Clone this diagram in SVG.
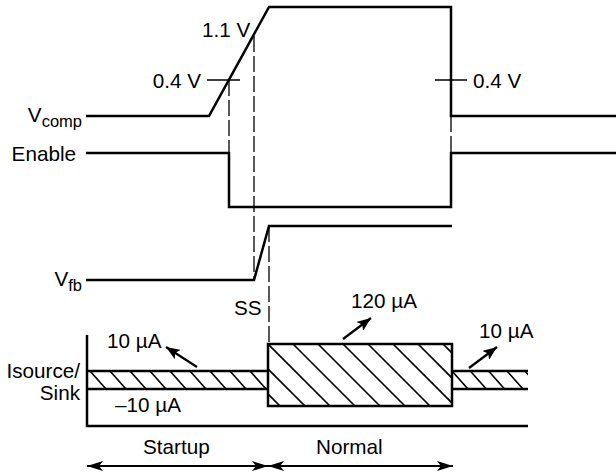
<svg xmlns="http://www.w3.org/2000/svg" width="616" height="472" viewBox="0 0 616 472">
<style>
text{font-family:"Liberation Sans",Arial,Helvetica,sans-serif;font-size:20.7px;fill:#000}
.sub{font-size:16.5px}
.sig{fill:none;stroke:#000;stroke-width:2.5;stroke-linejoin:miter}
.tick{stroke:#000;stroke-width:1.3;fill:none}
.dash{stroke:#000;stroke-width:1.3;stroke-dasharray:16 4;fill:none}
.hatch{stroke:#000;stroke-width:1.6;fill:none}
.band{fill:none;stroke:#000;stroke-width:2.5}
.arr{stroke:#000;stroke-width:2.2;fill:none}
</style>
<defs>
<marker id="ah" markerUnits="userSpaceOnUse" markerWidth="16" markerHeight="12" refX="16" refY="6" orient="auto-start-reverse" viewBox="0 0 16 12"><path d="M0,1 L16,6 L0,11 L4,6 Z" fill="#000"/></marker>
<marker id="as" markerUnits="userSpaceOnUse" markerWidth="14" markerHeight="11" refX="14" refY="5.5" orient="auto" viewBox="0 0 14 11"><path d="M0,0 L14,5.5 L0,11 L3,5.5 Z" fill="#000"/></marker>
<clipPath id="cStart"><rect x="87" y="371" width="181" height="18"/></clipPath>
<clipPath id="cNorm"><rect x="268" y="344" width="184" height="62"/></clipPath>
<clipPath id="cRight"><rect x="452" y="371" width="76" height="18"/></clipPath>
</defs>
<rect width="616" height="472" fill="#fff"/>

<g id="vcomp">
<path class="sig" d="M86,116 H209 L269,7 H451 V116 H616"/>
<path class="tick" d="M207,80 H240 M435,80 H467"/>
<text x="201" y="88" text-anchor="end">0.4 V</text>
<text x="202" y="37">1.1 V</text>
<text x="473" y="88">0.4 V</text>
<text x="82" y="122" text-anchor="end">V<tspan class="sub" dy="5">comp</tspan></text>
</g>

<g id="enable">
<path class="sig" d="M86,153 H229 V207 H451 V153 H616"/>
<text x="76" y="161" text-anchor="end">Enable</text>
</g>

<g id="vfb">
<path class="sig" d="M86,280 H254 L269,226 H452"/>
<text x="82" y="286" text-anchor="end">V<tspan class="sub" dy="5">fb</tspan></text>
<text x="234" y="315">SS</text>
</g>

<g id="isource">
<path class="band" d="M87,335 V426 H528"/>
<g clip-path="url(#cStart)">
<path class="hatch" d="M70,371 l16,18 M90,371 l16,18 M110,371 l16,18 M130,371 l16,18 M150,371 l16,18 M170,371 l16,18 M190,371 l16,18 M210,371 l16,18 M230,371 l16,18 M250,371 l16,18"/>
</g>
<path class="band" d="M87,371 H268 M87,389 H268"/>
<g clip-path="url(#cNorm)">
<path class="hatch" d="M193,344 l62,62 M218,344 l62,62 M243,344 l62,62 M268,344 l62,62 M293,344 l62,62 M318,344 l62,62 M343,344 l62,62 M368,344 l62,62 M393,344 l62,62 M418,344 l62,62 M443,344 l62,62"/>
</g>
<rect class="band" x="268" y="344" width="184" height="62"/>
<g clip-path="url(#cRight)">
<path class="hatch" d="M452,371 l16,18 M470.3,371 l16,18 M488.6,371 l16,18 M507,371 l16,18 M525,371 l16,18"/>
</g>
<path class="band" d="M452,371 H528 M452,389 H528"/>
<text x="80" y="378" text-anchor="end">Isource/</text>
<text x="80" y="400" text-anchor="end">Sink</text>
<text x="107" y="348">10 µA</text>
<text x="115" y="412">–10 µA</text>
<text x="351" y="308">120 µA</text>
<text x="479" y="338">10 µA</text>
</g>

<g id="phases">
<text x="143" y="454">Startup</text>
<text x="316" y="454">Normal</text>
</g>

<g id="connectors">
<path class="dash" d="M229,80 V153"/>
<path class="dash" d="M254,36 V280"/>
<path class="dash" d="M269,226 V344"/>
<path class="dash" d="M451,116 V153"/>
<path class="arr" d="M197,367 L166,347" marker-end="url(#as)"/>
<path class="arr" d="M343,339 L371,318" marker-end="url(#as)"/>
<path class="arr" d="M469,368 L497,347" marker-end="url(#as)"/>
<path class="arr" d="M87,466 H268" marker-start="url(#ah)" marker-end="url(#ah)"/>
<path class="arr" d="M268,466 H453" marker-start="url(#ah)" marker-end="url(#ah)"/>
</g>
</svg>
